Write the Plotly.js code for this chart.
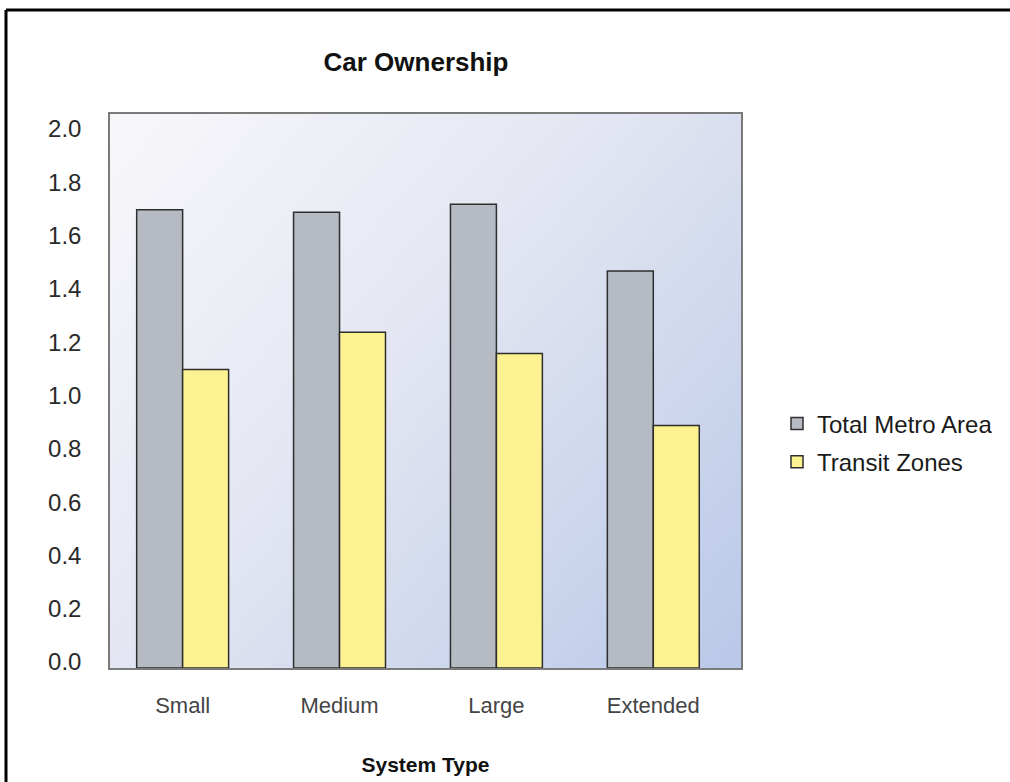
<!DOCTYPE html>
<html>
<head>
<meta charset="utf-8">
<script src="https://cdn.plot.ly/plotly-3.0.1.min.js"></script>
<style>
  html, body { margin: 0; padding: 0; background: #ffffff; }
  #chart { width: 1010px; height: 782px; }
</style>
</head>
<body>
<div id="chart"></div>
<script>
// ---- data ----
const categories = ["Small", "Medium", "Large", "Extended"];
const totalMetroArea = [1.72, 1.71, 1.74, 1.49];
const transitZones = [1.12, 1.26, 1.18, 0.91];
const seriesNames = ["Total Metro Area", "Transit Zones"];
const chartTitle = "Car Ownership";
const xTitle = "System Type";

// ---- geometry ----
const W = 1010, H = 782;
const M = { l: 110, r: 269, t: 114, b: 114 };
const PW = W - M.l - M.r, PH = H - M.t - M.b;
const px2x = p => (p - M.l) / PW;
const py2y = p => (H - M.b - p) / PH;

// gradient background for the plot area
const cv = document.createElement("canvas");
cv.width = PW; cv.height = PH;
const ctx = cv.getContext("2d");
const g = ctx.createLinearGradient(0, 0, PW, PH);
g.addColorStop(0, "#f8f8fb");
g.addColorStop(0.45, "#e3e6f2");
g.addColorStop(1, "#b9c8e8");
ctx.fillStyle = g;
ctx.fillRect(0, 0, PW, PH);
const bgURL = cv.toDataURL("image/png");

const font = "Liberation Sans, Arial, Helvetica, sans-serif";

const traces = [
  {
    type: "bar", name: seriesNames[0], legendgroup: "a",
    x: [0, 1, 2, 3], y: totalMetroArea,
    marker: { color: "#b5bac3", line: { color: "#2e2e2e", width: 1.5 } },
    hoverinfo: "y+name"
  },
  {
    type: "bar", name: seriesNames[1], legendgroup: "b",
    x: [0, 1, 2, 3], y: transitZones,
    marker: { color: "#fdf291", line: { color: "#2e2e2e", width: 1.5 } },
    hoverinfo: "y+name"
  }
];

const layout = {
  width: W, height: H,
  margin: M,
  paper_bgcolor: "#ffffff",
  plot_bgcolor: "rgba(0,0,0,0)",
  barmode: "group",
  bargap: 0.414,
  bargroupgap: 0,
  showlegend: true,
  title: {
    text: chartTitle,
    font: { family: font, size: 26, color: "#111111", weight: "bold" },
    x: 416 / W, xref: "container", xanchor: "center",
    y: 1 - 62 / H, yref: "container", yanchor: "middle"
  },
  xaxis: {
    tickmode: "array",
    tickvals: [0, 1, 2, 3],
    ticktext: categories,
    range: [-0.463, 3.559],
    showgrid: false, zeroline: false,
    showline: true, mirror: true, linecolor: "#7a7a7a", linewidth: 1.5,
    ticks: "",
    ticklabelstandoff: 17,
    tickfont: { family: font, size: 22, color: "#444444" },
    title: {
      text: xTitle,
      font: { family: font, size: 21, color: "#111111", weight: "bold" },
      standoff: 40
    },
    fixedrange: true
  },
  yaxis: {
    range: [0, 2.079],
    tickmode: "linear", tick0: 0, dtick: 0.2,
    tickformat: ".1f",
    showgrid: false, zeroline: false,
    showline: true, mirror: true, linecolor: "#7a7a7a", linewidth: 1.5,
    ticks: "",
    ticklabelstandoff: 22,
    ticklabelshift: -6,
    tickfont: { family: font, size: 24, color: "#2a2a2a" },
    fixedrange: true
  },
  legend: {
    x: px2x(777), xanchor: "left",
    y: py2y(443), yanchor: "middle",
    font: { family: font, size: 24, color: "#1a1a1a" },
    traceorder: "grouped",
    tracegroupgap: 4,
    bgcolor: "rgba(0,0,0,0)",
    itemclick: false, itemdoubleclick: false
  },
  images: [{
    source: bgURL, xref: "paper", yref: "paper",
    x: 0, y: 1, sizex: 1, sizey: 1, sizing: "stretch", layer: "below"
  }],
  shapes: [
    { type: "line", xref: "paper", yref: "paper",
      x0: px2x(6), x1: px2x(6), y0: py2y(10), y1: py2y(H + 5),
      line: { color: "#000000", width: 3 } },
    { type: "line", xref: "paper", yref: "paper",
      x0: px2x(6), x1: px2x(W + 5), y0: py2y(10), y1: py2y(10),
      line: { color: "#000000", width: 3 } }
  ]
};

Plotly.newPlot("chart", traces, layout, { displayModeBar: false, staticPlot: false });
</script>
</body>
</html>
